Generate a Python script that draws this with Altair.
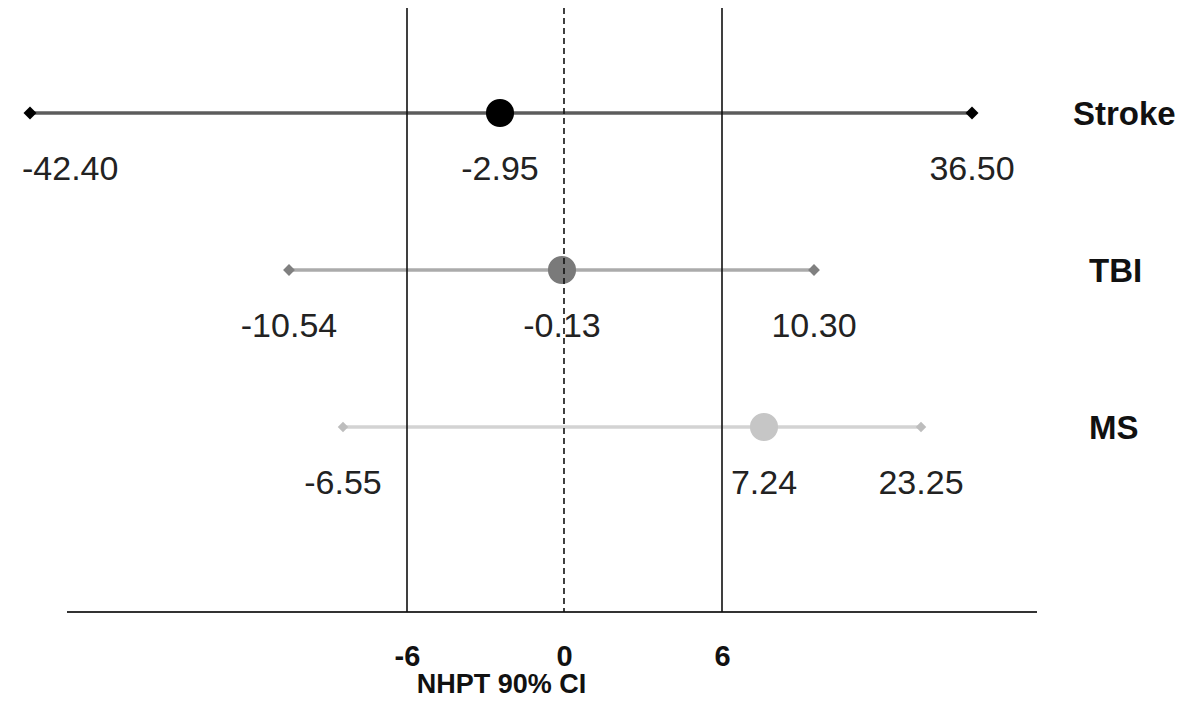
import altair as alt
import pandas as pd

# ---- data ----
groups = ["Stroke", "TBI", "MS"]
means = [-2.95, -0.13, 7.24]
lowers = [-42.40, -10.54, -6.55]
uppers = [36.50, 10.30, 23.25]
ref_values = [-6, 0, 6]
ref_styles = ["solid", "dashed", "solid"]
tick_values = [-6, 0, 6]
axis_title = "NHPT 90% CI"

# ---- tables built from the arrays ----
ci = pd.DataFrame({"group": groups, "lower": lowers, "mean": means, "upper": uppers})
ends = pd.DataFrame({"group": groups * 2, "value": lowers + uppers})
mids = pd.DataFrame({"group": groups, "value": means})
labels = pd.DataFrame({"group": groups * 3, "value": lowers + means + uppers})
refs = pd.DataFrame({"value": ref_values, "style": ref_styles})
names = pd.DataFrame({"group": groups})

FONT = "Liberation Sans"

# The original figure is not drawn to scale: a piecewise-linear scale
# reproduces where each value sits on the page.
x_stops = sorted(set(lowers + means + uppers + ref_values))
x_pixels = {
    -42.40: -37, -10.54: 222, -6.55: 276, -6: 340, -2.95: 433,
    -0.13: 495, 0: 497, 6: 655, 7.24: 697, 10.30: 747, 23.25: 854, 36.50: 905,
}
xscale = alt.Scale(domain=x_stops, range=[x_pixels[v] for v in x_stops],
                   nice=False, zero=False)
yscale = alt.Scale(type="point", domain=groups, range=[105, 419], padding=0)

xaxis = alt.Axis(
    values=tick_values, title=axis_title, grid=False,
    domain=False, ticks=False,
    labelExpr="datum.value < 0 ? '-' + format(abs(datum.value), 'd') : format(datum.value, 'd')",
    labelFont=FONT, labelFontSize=29, labelFontWeight="bold", labelColor="#111111",
    labelPadding=30,
    titleFont=FONT, titleFontSize=27, titleFontWeight="bold", titleColor="#111111",
    titlePadding=0,
)

line_colors = ["#5c5c5c", "#ababab", "#d3d3d3"]
point_colors = ["#000000", "#7a7a7a", "#c6c6c6"]
diamond_colors = ["#000000", "#808080", "#bdbdbd"]

Y = alt.Y("group:N", scale=yscale, axis=None)

ci_lines = alt.Chart(ci).mark_rule(strokeWidth=3.5).encode(
    x=alt.X("lower:Q", scale=xscale, axis=xaxis),
    x2="upper:Q",
    y=Y,
    color=alt.Color("group:N", scale=alt.Scale(domain=groups, range=line_colors), legend=None),
)

diamonds = alt.Chart(ends).mark_point(shape="diamond", filled=True, opacity=1).encode(
    x=alt.X("value:Q", scale=xscale, axis=xaxis),
    y=Y,
    fill=alt.Fill("group:N", scale=alt.Scale(domain=groups, range=diamond_colors), legend=None),
    size=alt.Size("group:N", scale=alt.Scale(domain=groups, range=[170, 110, 90]), legend=None),
)

points = alt.Chart(mids).mark_point(shape="circle", filled=True, opacity=1, size=680).encode(
    x=alt.X("value:Q", scale=xscale, axis=xaxis),
    y=Y,
    stroke=alt.Stroke("group:N", scale=alt.Scale(domain=groups, range=point_colors), legend=None),
    fill=alt.Fill("group:N", scale=alt.Scale(domain=groups, range=point_colors), legend=None),
)

label_expr = ("datum.value < 0 ? '-' + format(abs(datum.value), '.2f') "
              ": format(datum.value, '.2f')")

value_base = alt.Chart(labels).transform_calculate(
    label=label_expr
).transform_joinaggregate(
    vmin="min(value)"
)

value_text = value_base.transform_filter(
    alt.datum.value != alt.datum.vmin
).mark_text(
    font=FONT, fontSize=34, color="#222222", align="center", baseline="middle", dy=57
).encode(
    x=alt.X("value:Q", scale=xscale, axis=xaxis),
    y=Y,
    text="label:N",
)

value_text_left = value_base.transform_filter(
    alt.datum.value == alt.datum.vmin
).mark_text(
    font=FONT, fontSize=34, color="#222222", align="left", baseline="middle", dy=57, dx=-8
).encode(
    x=alt.X("value:Q", scale=xscale, axis=xaxis),
    y=Y,
    text="label:N",
)

name_stroke = alt.Chart(names).transform_filter(alt.datum.group == "Stroke").mark_text(
    font=FONT, fontSize=33, fontWeight="bold", color="#111111", align="left", baseline="middle", dy=2
).encode(x=alt.value(1006), y=Y, text="group:N")

name_other = alt.Chart(names).transform_filter(alt.datum.group != "Stroke").mark_text(
    font=FONT, fontSize=33, fontWeight="bold", color="#111111", align="left", baseline="middle", dy=2
).encode(x=alt.value(1022), y=Y, text="group:N")

baseline = alt.Chart(names).mark_rule(color="#333333", strokeWidth=2).encode(
    x=alt.value(0), x2=alt.value(970), y=alt.value(604)
)

ref_rules = alt.Chart(refs).mark_rule(color="#111111", strokeWidth=1.6).encode(
    x=alt.X("value:Q", scale=xscale, axis=xaxis),
    strokeDash=alt.StrokeDash(
        "style:N",
        scale=alt.Scale(domain=["solid", "dashed"], range=[[1, 0], [6, 4]]),
        legend=None,
    ),
)

chart = alt.layer(
    ci_lines, diamonds, points, value_text, value_text_left,
    name_stroke, name_other, baseline, ref_rules
).resolve_scale(
    color="independent", fill="independent", stroke="independent", size="independent"
).properties(
    width=970, height=604,
    background="white",
    autosize=alt.AutoSizeParams(type="none"),
    padding={"left": 59, "top": 0, "right": 138, "bottom": 85},
).configure_view(stroke=None)

chart.save("out.html", embed_options={"renderer": "svg", "actions": False})
